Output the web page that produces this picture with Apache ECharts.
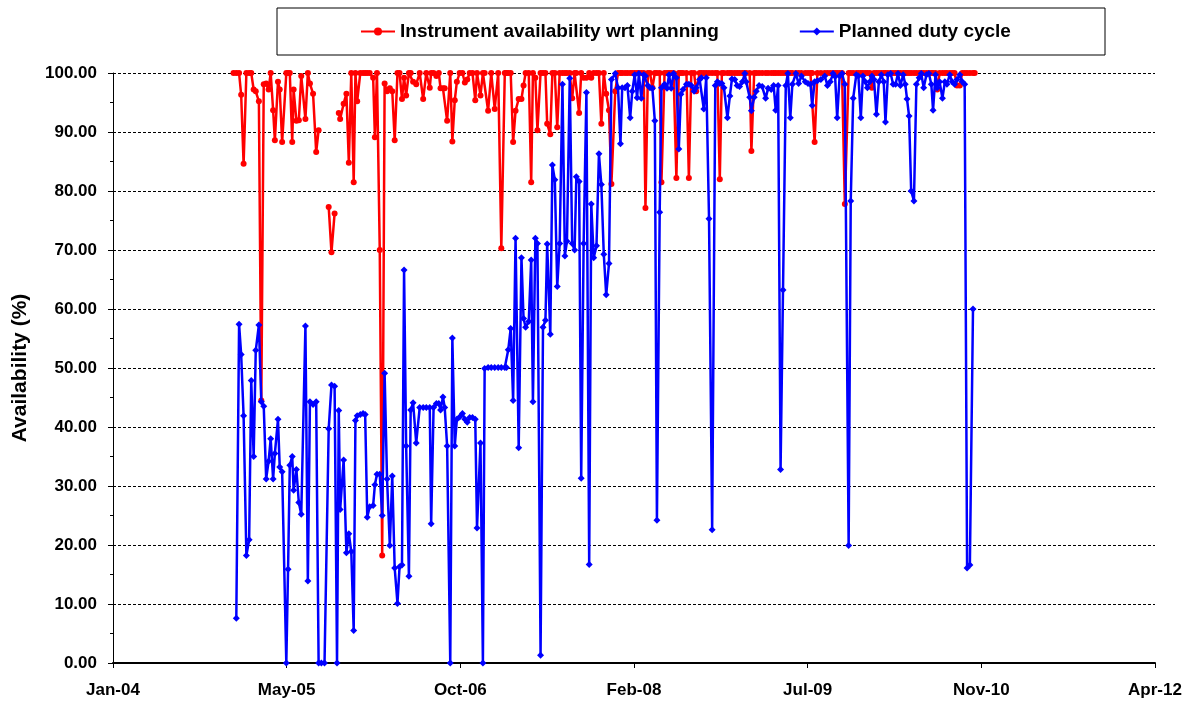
<!DOCTYPE html>
<html>
<head>
<meta charset="utf-8">
<script src="https://cdn.jsdelivr.net/npm/echarts@6/dist/echarts.min.js"></script>
<style>
  html, body { margin: 0; padding: 0; background: #ffffff; }
  #chart { width: 1191px; height: 704px; }
</style>
</head>
<body>
<div id="chart"></div>
<script>
// Reporting dates as Excel day serials (days since 1899-12-30).
const sampleDates = [
  38348,38356,38364,38370,38377,38385,38393,38399,38406,38412,
  38421,38428,38435,38442,38449,38455,38462,38467,38476,38481,
  38488,38500,38505,38510,38517,38521,38529,38536,38543,38555,
  38562,38568,38577,38586,38593,38601,38610,38622,38630,38639,
  38646,38651,38655,38665,38673,38680,38687,38694,38699,38704,
  38713,38721,38727,38733,38740,38750,38755,38761,38769,38776,
  38783,38790,38798,38805,38812,38820,38826,38833,38839,38845,
  38853,38858,38865,38874,38884,38894,38903,38913,38917,38924,
  38932,38939,38944,38951,38956,38963,38972,38978,38985,38991,
  38999,39007,39014,39021,39028,39036,39044,39049,39059,39066,
  39071,39081,39090,39100,39110,39119,39129,39134,39139,39146,
  39153,39160,39169,39177,39183,39189,39198,39205,39210,39217,
  39223,39232,39239,39246,39251,39260,39266,39273,39280,39287,
  39295,39302,39308,39316,39323,39330,39335,39343,39349,39356,
  39364,39372,39378,39385,39393,39400,39407,39414,39421,39429,
  39436,39447,39455,39462,39467,39475,39482,39490,39496,39503,
  39510,39515,39522,39529,39534,39541,39547,39554,39561,39567,
  39575,39580,39589,39596,39602,39608,39615,39623,39630,39636,
  39642,39652,39659,39666,39674,39680,39690,39695,39702,39709,
  39717,39726,39735,39741,39748,39754,39760,39770,39777,39783,
  39791,39798,39805,39813,39820,39824,39834,39839,39847,39853,
  39861,39870,39880,39887,39896,39903,39909,39916,39923,39930,
  39938,39944,39951,39957,39967,39975,39983,39994,40002,40009,
  40014,40021,40029,40039,40050,40058,40066,40074,40080,40086,
  40093,40100,40108,40119,40125,40132,40141,40147,40154,40160,
  40167,40173,40180,40186,40192,40199,40206,40213,40220,40225,
  40232,40240,40247,40254,40261,40268,40276,40282,40287,40293,
  40299,40307,40314,40322,40328,40335,40343,40350,40357,40362,
  40369,40374,40381,40389,40396,40402,40410,40417,40424,40431,
  40439,40446,40453,40460,40468,40477,40482
];

// Instrument availability with respect to planning (%), null = no planned time.
const availability = [
  100,100,100,96.3,84.6,100,100,100,97.2,96.9,
  95.2,44.5,98.1,98.2,97.2,100,93.7,88.6,98.5,97.2,
  88.3,100,100,100,88.3,97.2,91.9,92,99.5,92.2,
  100,98.2,96.5,86.6,90.3,null,null,77.3,69.6,76.2,
  null,93.2,92.2,94.8,96.5,84.8,100,81.5,100,95.2,
  100,100,100,100,100,99.2,89.1,100,70,18.2,
  98.2,96.9,97.4,96.9,88.6,100,100,95.6,99.2,96.2,
  100,100,98.5,98.1,100,95.6,100,97.5,100,100,
  99.5,100,97.4,97.4,97.4,91.9,100,88.4,95.4,98.5,
  100,100,98.4,98.9,100,100,95.4,100,96.2,100,
  100,93.6,100,93.9,100,70.3,100,100,100,100,
  88.3,93.6,95.6,95.6,97.9,100,100,81.5,100,99.2,
  90.3,100,100,100,91.4,89.6,100,100,90.8,100,
  100,100,100,100,95.7,100,100,93.2,100,99.2,
  99.2,100,99.2,100,100,100,91.4,100,96.5,93.7,
  81.2,96.9,100,100,100,100,100,100,100,100,
  100,100,100,100,77.1,100,100,97.5,100,100,
  100,81.5,100,100,100,100,100,82.2,100,100,
  100,100,82.2,100,100,96.9,100,100,100,100,
  100,100,100,100,82,100,100,100,100,100,
  100,100,100,100,100,100,100,86.8,100,100,
  100,100,100,100,100,100,100,100,100,100,
  100,100,100,100,100,100,100,100,100,100,
  100,88.3,100,100,100,100,100,100,100,100,
  100,100,77.8,100,100,100,100,100,100,100,
  100,100,100,97.5,100,100,100,100,100,100,
  100,100,100,100,100,100,100,100,100,100,
  100,100,100,100,100,100,100,100,100,100,
  100,97.2,100,100,100,100,100,100,100,97.9,
  97.9,100,100,100,100,100,100
];

// Planned duty cycle (%).
const dutyCycle = [
  null,7.6,57.4,52.3,41.9,18.2,20.9,47.9,35,53,
  57.3,44.3,43.5,31.2,34.2,38,31.2,35.5,41.3,33.2,
  32.4,0,15.9,33.5,35,29.3,32.8,27.2,25.2,57.1,
  13.9,44.3,43.8,44.3,0,0,0,39.7,47.1,46.9,
  0,42.8,26,34.4,18.7,21.9,18.9,5.5,41.1,41.9,
  42.1,42.3,42.1,24.7,26.5,26.7,30.2,32,32,25,
  49.1,31.2,19.9,31.7,16.1,10.1,16.3,16.6,66.6,36.8,
  14.7,42.9,44.1,37.3,43.3,43.3,43.3,43.3,23.6,43.3,
  44,44,42.9,45.1,43.3,36.8,0,55.1,36.8,41.3,
  41.7,42.3,41.3,40.8,41.6,41.6,41.3,22.9,37.3,0,
  49.9,50.1,50.1,50.1,50.1,50.1,50.1,50.1,53.1,56.7,
  44.5,72,36.5,68.7,58.4,56.9,57.9,68.3,44.3,72,
  71.1,1.3,56.9,58.1,71,55.7,84.4,81.9,63.8,71.1,
  98.1,69,71.5,99.1,71.1,70,82.4,81.6,31.3,71.1,
  96.7,16.7,77.8,68.7,70.7,86.3,81.1,69.3,62.4,67.7,
  98.9,99.9,97.5,88,97.5,97.5,97.9,92.4,96.9,99.7,
  95.8,99.9,95.7,99.7,99.5,97.9,97.5,97.4,91.9,24.2,
  76.4,97.5,98.1,97.4,99.7,97.4,99.9,99.2,87.1,96.4,
  97.2,98.1,98.1,97.9,96.9,97.5,98.9,99.2,93.9,99.2,
  75.3,22.6,97.9,98.5,98.2,98.2,97.5,92.4,96.1,99,
  98.9,97.9,97.7,98.5,99.9,98.5,95.9,93.6,95.9,96.9,
  97.9,97.7,95.7,97.4,97.2,97.9,93.7,97.9,32.8,63.2,
  97.9,99.9,92.4,98.1,99.9,98.2,99.5,98.5,98.2,98.1,
  94.5,98.5,98.7,98.9,99.5,97.9,98.5,99.9,99.4,92.4,
  99.5,99.9,98.1,19.9,78.3,95.7,99.7,99.5,92.4,99.5,
  98.5,97.5,98.5,99.5,98.9,93,98.5,99.7,98.5,91.7,
  99.7,99.9,98.1,98.1,99.9,97.9,99.7,98.1,95.6,92.7,
  80,78.3,98.1,99.2,99.9,97.5,99.7,99.9,98.1,93.7,
  99.7,97.5,98.5,95.7,98.5,98.1,99.7,98.5,98.1,98.9,
  99.7,98.5,98.1,16.1,16.6,60,null
];

const seriesNames = ['Instrument availability wrt planning', 'Planned duty cycle'];
const yTicks = [0, 100, 10];          // min, max, step
const AXIS_START = 38001;             // 15 Jan 2004 (Excel serial)
const AXIS_SPAN = 3000;               // days shown on the date axis
const AXIS_STEP = 500;                // days between date ticks
const MONTHS = ['Jan','Feb','Mar','Apr','May','Jun','Jul','Aug','Sep','Oct','Nov','Dec'];

function serialToLabel(serial) {
  const d = new Date(Math.round((serial - 25569) * 86400000));
  return MONTHS[d.getUTCMonth()] + '-' + String(d.getUTCFullYear()).slice(2);
}

const FONT = '"Liberation Sans", Arial, sans-serif';
const toPoints = values => sampleDates.map((s, i) => [s - AXIS_START, values[i]]);

const chart = echarts.init(document.getElementById('chart'), null, { renderer: 'canvas' });
chart.setOption({
  animation: false,
  backgroundColor: '#ffffff',
  textStyle: { fontFamily: FONT },
  grid: { left: 113, right: 36, top: 73, bottom: 41, containLabel: false },
  graphic: [{
    type: 'rect',
    shape: { x: 277, y: 8, width: 828, height: 47 },
    style: { fill: 'none', stroke: '#000000', lineWidth: 1 },
    silent: true
  }],
  legend: {
    data: seriesNames,
    top: 22,
    left: 360,
    padding: 0,
    itemWidth: 34,
    itemHeight: 10,
    itemGap: 80,
    textStyle: { color: '#000', fontWeight: 'bold', fontSize: 19, fontFamily: FONT }
  },
  xAxis: {
    type: 'value',
    min: 0,
    max: AXIS_SPAN,
    interval: AXIS_STEP,
    axisLine: { show: true, lineStyle: { color: '#000', width: 2 } },
    axisTick: { show: true, length: 5, lineStyle: { color: '#000', width: 1 } },
    axisLabel: {
      color: '#000', fontWeight: 'bold', fontSize: 17, margin: 19, fontFamily: FONT,
      formatter: v => serialToLabel(v + AXIS_START)
    },
    splitLine: { show: false }
  },
  yAxis: {
    type: 'value',
    min: yTicks[0],
    max: yTicks[1],
    interval: yTicks[2],
    name: 'Availability (%)',
    nameLocation: 'middle',
    nameGap: 82,
    nameTextStyle: { color: '#000', fontWeight: 'bold', fontSize: 21, fontFamily: FONT },
    axisLine: { show: true, lineStyle: { color: '#000', width: 1 } },
    axisTick: { show: true, length: 5, lineStyle: { color: '#000' } },
    minorTick: { show: true, splitNumber: 2, length: 3, lineStyle: { color: '#000' } },
    axisLabel: {
      color: '#000', fontWeight: 'bold', fontSize: 17, margin: 16, fontFamily: FONT,
      formatter: v => v.toFixed(2)
    },
    splitLine: { show: true, lineStyle: { color: '#000', width: 1, type: [3, 2] } }
  },
  series: [
    {
      name: seriesNames[0],
      type: 'line',
      data: toPoints(availability),
      connectNulls: false,
      symbol: 'circle',
      symbolSize: 6,
      lineStyle: { color: '#FF0000', width: 2.5 },
      itemStyle: { color: '#FF0000' },
      emphasis: { disabled: true },
      z: 2
    },
    {
      name: seriesNames[1],
      type: 'line',
      data: toPoints(dutyCycle),
      connectNulls: false,
      symbol: 'diamond',
      symbolSize: 7,
      lineStyle: { color: '#0000FF', width: 2.5 },
      itemStyle: { color: '#0000FF' },
      emphasis: { disabled: true },
      z: 3
    }
  ]
});
</script>
</body>
</html>
